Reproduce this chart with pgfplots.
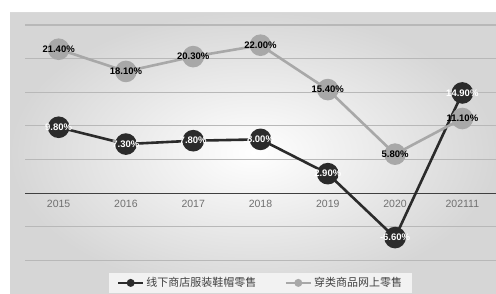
\documentclass[border=0pt]{standalone}
\usepackage{pgfplots}
\pgfplotsset{compat=1.18}
\usepackage{fontspec}
\setmainfont{Liberation Sans}
\newfontfamily\cjk{Noto Sans CJK SC}
\definecolor{darkser}{HTML}{2B2B2B}
\definecolor{lightser}{HTML}{A8A8A8}
\definecolor{ticklab}{HTML}{707070}
\begin{document}
\begin{tikzpicture}
\useasboundingbox (0,0) rectangle (496pt,293pt);
\fill[white] (0,0) rectangle (496pt,293pt);
\shade[inner color=white, outer color=black!16] (10pt,0) rectangle (496pt,281pt);
\draw[black!15, line width=0.8pt] (10pt,281pt) -- (496pt,281pt);
\begin{axis}[
  at={(25pt,0pt)}, anchor=south west,
  scale only axis, width=471pt, height=268pt,
  xmin=-0.5, xmax=6.5, ymin=-14.84, ymax=25,
  axis x line=middle, axis y line=left,
  x axis line style={-, draw=black!75, line width=1.3pt},
  y axis line style={draw=none},
  xtick={0,...,6},
  xticklabels={2015,2016,2017,2018,2019,2020,202111},
  xticklabel style={font=\fontsize{10.5}{12}\selectfont, text=ticklab, yshift=-3pt},
  ytick={-10,-5,0,5,10,15,20,25},
  yticklabels={},
  major tick length=0pt,
  ymajorgrids, grid style={draw=black!28, line width=1.1pt},
  clip=false,
  legend columns=2,
  legend style={at={(0.5,0)}, anchor=south, fill=white!95!black, draw=none,
    font=\cjk\fontsize{11}{13}\selectfont, text=black!75,
    /tikz/every even column/.append style={column sep=26pt},
    inner xsep=8pt, inner ysep=2.5pt},
  legend image code/.code={\draw[mark repeat=2,mark phase=2,#1,mark size=2.6pt] plot coordinates {(0cm,0cm) (0.44cm,0cm) (0.88cm,0cm)};},
  nodes near coords, point meta=explicit symbolic,
  every node near coord/.append style={anchor=center, font=\bfseries\fontsize{9.5}{11}\selectfont, inner sep=0pt},
]
\addplot[color=darkser, line width=2.6pt, mark=*, mark size=9.5pt, mark options={fill=darkser, draw=none},
  every node near coord/.append style={text=white}]
coordinates {(0,9.8)[9.80\%] (1,7.3)[7.30\%] (2,7.8)[7.80\%] (3,8.0)[8.00\%] (4,2.9)[2.90\%] (5,-6.6)[-6.60\%] (6,14.9)[14.90\%]};
\addplot[color=lightser, line width=2.6pt, mark=*, mark size=9.5pt, mark options={fill=lightser, draw=none},
  every node near coord/.append style={text=black}]
coordinates {(0,21.4)[21.40\%] (1,18.1)[18.10\%] (2,20.3)[20.30\%] (3,22.0)[22.00\%] (4,15.4)[15.40\%] (5,5.8)[5.80\%] (6,11.1)[11.10\%]};
\legend{线下商店服装鞋帽零售, 穿类商品网上零售}
\end{axis}
\end{tikzpicture}
\end{document}
